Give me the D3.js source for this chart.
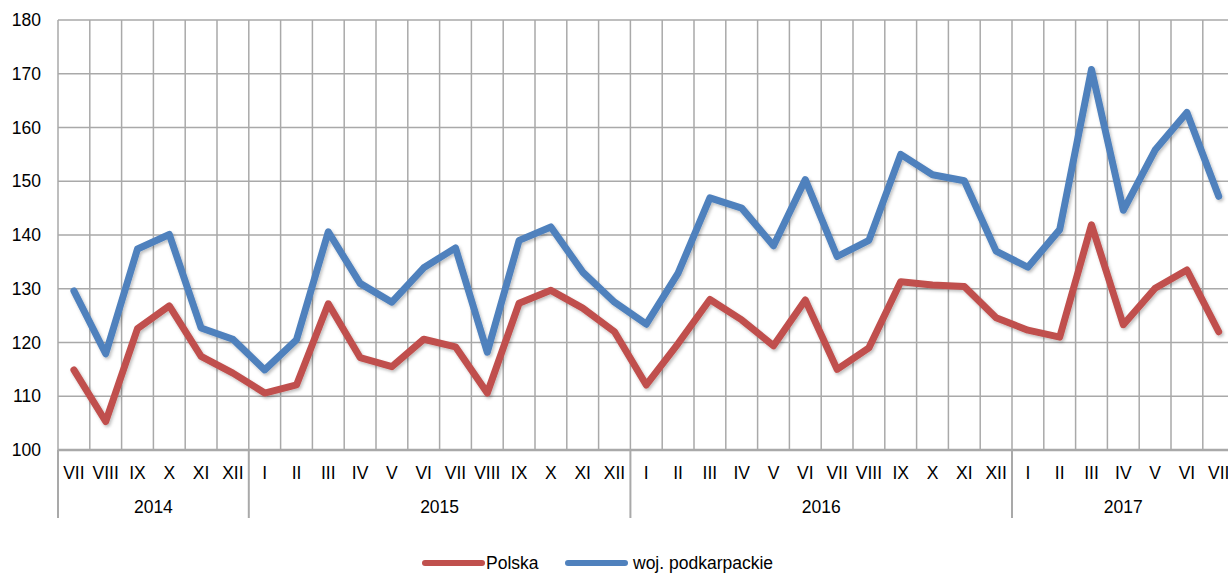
<!DOCTYPE html>
<html>
<head>
    <meta charset="utf-8">
    <style>
        body { margin: 0; background: #fff; }
        svg { display: block; font-family: 'Liberation Sans', Arial, sans-serif; }
    </style>
</head>
<body>
<svg width="1228" height="574"></svg>

<script src="https://d3js.org/d3.v7.min.js"></script>
<script>
    // months from VII 2014 to VII 2017
    let months = ["VII","VIII","IX","X","XI","XII",
        "I","II","III","IV","V","VI","VII","VIII","IX","X","XI","XII",
        "I","II","III","IV","V","VI","VII","VIII","IX","X","XI","XII",
        "I","II","III","IV","V","VI","VII"]

    let years = ["2014", "2015", "2016", "2017"]
    let yearMonths = [6, 12, 12, 7]

    let polska = [114.9, 105.3, 122.6, 126.8, 117.4, 114.3,
        110.6, 112.1, 127.2, 117.2, 115.5, 120.6, 119.2, 110.6, 127.3, 129.7, 126.4, 122.0,
        112.1, 119.8, 128.0, 124.2, 119.4, 127.9, 115.0, 119.0, 131.3, 130.7, 130.4, 124.6,
        122.3, 121.0, 141.9, 123.3, 130.1, 133.5, 122.0]

    let podkarpackie = [129.6, 117.9, 137.4, 140.1, 122.7, 120.6,
        114.9, 120.5, 140.6, 131.0, 127.5, 133.9, 137.6, 118.2, 139.0, 141.5, 133.1, 127.5,
        123.4, 132.9, 146.9, 145.0, 138.0, 150.3, 136.0, 139.0, 155.0, 151.2, 150.1, 137.0,
        134.0, 141.0, 170.8, 144.6, 155.8, 162.8, 147.2]

    let yTicks = [100, 110, 120, 130, 140, 150, 160, 170, 180]

    let series = [
        { name: "Polska", values: polska, color: "#c0504d" },
        { name: "woj. podkarpackie", values: podkarpackie, color: "#4f81bd" }
    ]

    let svg = d3.select("svg")
    let plotLeft = 58, plotTop = 20, plotBottom = 450, band = 31.8

    let x = d3.scaleBand()
        .domain(d3.range(months.length))
        .range([plotLeft, plotLeft + band * months.length])
        .paddingInner(0).paddingOuter(0)

    let y = d3.scaleLinear()
        .domain([100, 180])
        .range([plotBottom, plotTop])

    let defs = svg.append("defs")
    let f = defs.append("filter").attr("id", "shadow")
        .attr("x", "-5%").attr("y", "-5%").attr("width", "110%").attr("height", "120%")
    f.append("feDropShadow")
        .attr("dx", 1.5).attr("dy", 2).attr("stdDeviation", 1.5)
        .attr("flood-color", "#000").attr("flood-opacity", 0.25)

    let grid = "#a9a9a9"

    // horizontal grid
    svg.append("g")
        .selectAll("line")
        .data(yTicks)
        .join("line")
        .attr("x1", plotLeft).attr("x2", 1228)
        .attr("y1", d => y(d)).attr("y2", d => y(d))
        .style("stroke", grid)
        .style("stroke-width", d => d == 100 ? 2.5 : 1.5)

    // vertical grid at band edges
    svg.append("g")
        .selectAll("line")
        .data(d3.range(months.length))
        .join("line")
        .attr("x1", d => x(d)).attr("x2", d => x(d))
        .attr("y1", plotTop).attr("y2", plotBottom)
        .style("stroke", grid)
        .style("stroke-width", 1.5)

    // year dividers
    let starts = [0]
    yearMonths.forEach((n, i) => starts.push(starts[i] + n))

    svg.append("g")
        .selectAll("line")
        .data(starts.slice(0, -1))
        .join("line")
        .attr("x1", d => x(d)).attr("x2", d => x(d))
        .attr("y1", plotBottom).attr("y2", 518)
        .style("stroke", grid)
        .style("stroke-width", 2)

    // y labels
    svg.append("g")
        .selectAll("text")
        .data(yTicks)
        .join("text")
        .attr("x", 41)
        .attr("y", d => y(d))
        .attr("dy", "0.35em")
        .attr("text-anchor", "end")
        .style("font-size", "17.5px")
        .style("fill", "#000")
        .text(d => d)

    // month labels
    svg.append("g")
        .selectAll("text")
        .data(months)
        .join("text")
        .attr("x", (d, i) => x(i) + band / 2)
        .attr("y", 473)
        .attr("dy", "0.35em")
        .attr("text-anchor", "middle")
        .style("font-size", "17.5px")
        .text(d => d)

    // year labels
    svg.append("g")
        .selectAll("text")
        .data(years)
        .join("text")
        .attr("x", (d, i) => x(starts[i]) + yearMonths[i] * band / 2)
        .attr("y", 507)
        .attr("dy", "0.35em")
        .attr("text-anchor", "middle")
        .style("font-size", "17.5px")
        .text(d => d)

    let line = d3.line()
        .x((d, i) => x(i) + band / 2)
        .y(d => y(d))

    svg.append("g")
        .attr("filter", "url(#shadow)")
        .selectAll("path")
        .data(series)
        .join("path")
        .attr("d", d => line(d.values))
        .style("fill", "none")
        .style("stroke", d => d.color)
        .style("stroke-width", 7)
        .style("stroke-linejoin", "round")
        .style("stroke-linecap", "round")

    // legend (the reference crops it at the bottom edge; kept just inside)
    let legendX = [425, 568]
    let lg = svg.append("g")
        .selectAll("g")
        .data(series)
        .join("g")
        .attr("transform", (d, i) => "translate(" + legendX[i] + ",563)")

    lg.append("line")
        .attr("x1", 0).attr("x2", 57)
        .attr("y1", 0).attr("y2", 0)
        .style("stroke", d => d.color)
        .style("stroke-width", 6)
        .style("stroke-linecap", "round")

    lg.append("text")
        .attr("x", (d, i) => i == 0 ? 61 : 65)
        .attr("y", 0)
        .attr("dy", "0.35em")
        .style("font-size", "17.5px")
        .text(d => d.name)
</script>
</body>
</html>
